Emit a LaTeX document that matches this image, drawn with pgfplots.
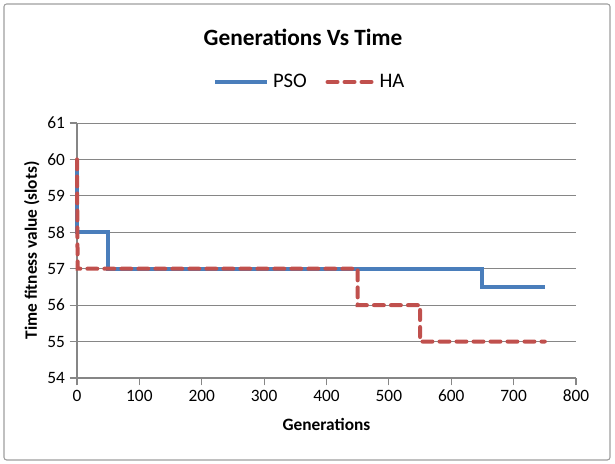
\documentclass[border=0pt]{standalone}
\usepackage{pgfplots}
\pgfplotsset{compat=1.18}
\usepackage{fontspec}
\setmainfont{Carlito}
\definecolor{psoblue}{RGB}{74,126,187}
\definecolor{hared}{RGB}{192,80,77}
\definecolor{axgray}{RGB}{134,134,134}
\pgfplotsset{
  solidkey/.style={legend image code/.code={\draw[##1] (0pt,0pt) -- (39pt,0pt);}},
  dashkey/.style={legend image code/.code={\draw[##1] (1.5pt,0pt) -- (36pt,0pt);}},
}
\begin{document}
\begin{tikzpicture}[x=0.75pt,y=0.75pt]
% chart frame (px units, axis origin at lower-left of plot area)
\useasboundingbox (-77,-86) rectangle (538,378);
\draw[axgray!80,line width=0.8pt,rounded corners=2pt] (-73,-82) rectangle (533,374);
\begin{axis}[
  at={(0,0)}, anchor=origin,
  scale only axis,
  width=374.25pt, height=191.25pt,
  xmin=0, xmax=800, ymin=54, ymax=61,
  xtick={0,100,...,800}, ytick={54,...,61},
  axis x line*=bottom, axis y line*=left,
  axis line style={draw=axgray, line width=0.8pt},
  x axis line style={-}, y axis line style={-},
  tick style={draw=axgray, line width=0.8pt},
  tick align=outside, major tick length=5.5pt,
  ymajorgrids, grid style={draw=axgray, line width=0.7pt},
  tick label style={font=\fontsize{13}{15}\selectfont},
  /pgf/number format/assume math mode=true,
  xlabel={\textbf{Generations}},
  ylabel={\textbf{Time fitness value (slots)}},
  xlabel style={font=\fontsize{13}{15}\selectfont, yshift=-5pt},
  ylabel style={font=\fontsize{13}{15}\selectfont, yshift=-1pt},
  clip=false,
  legend columns=2,
  legend style={draw=none, fill=none, at={(0.467,1.161)}, anchor=center,
    font=\fontsize{15.5}{18}\selectfont, column sep=1pt,
    /tikz/every even column/.append style={column sep=12pt}},
]
\addplot[psoblue, line width=3pt, line join=miter, solidkey] coordinates {
  (0,60) (0,58) (50,58) (50,57) (650,57) (650,56.5) (750,56.5)
};
\addlegendentry{PSO}
\addplot[hared, line width=3pt, line cap=round, dash pattern=on 7.5pt off 5.25pt, dashkey] coordinates {
  (0,60) (1,57) (450,57) (450,56) (550,56) (550,55) (750,55)
};
\addlegendentry{HA}
\node[font=\bfseries\fontsize{17.5}{20}\selectfont] at (rel axis cs:0.453,1.337) {Generations Vs Time};
\end{axis}
\end{tikzpicture}
\end{document}
